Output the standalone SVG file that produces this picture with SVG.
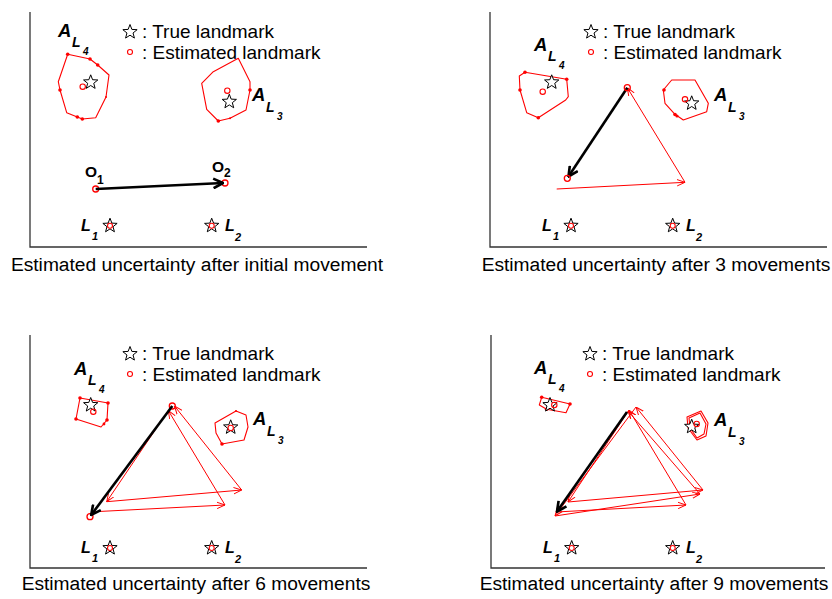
<svg xmlns="http://www.w3.org/2000/svg" width="832" height="599" viewBox="0 0 832 599">
<style>
text{font-family:"Liberation Sans",Arial,sans-serif;fill:#000}
.cap{font-size:19.2px;text-anchor:middle}
.leg{font-size:19px}
.A{font-size:18.5px;font-weight:bold;font-style:italic}
.Ls{font-size:14px;font-weight:bold;font-style:italic}
.sub{font-size:10px;font-weight:bold;font-style:italic}
.L{font-size:16px;font-weight:bold;font-style:italic}
.Lsub{font-size:11px;font-weight:bold;font-style:italic}
.O{font-size:15.5px;font-weight:bold}
.Osub{font-size:12px;font-weight:bold}
.axis{fill:none;stroke:#333;stroke-width:1.3}
.poly{fill:none;stroke:#f00;stroke-width:1.1;stroke-linejoin:round}
.dot{fill:#f00}
.est{fill:none;stroke:#f00;stroke-width:1.1}
.star{fill:#fff;stroke:#000;stroke-width:1}
.rl{stroke:#f00;stroke-width:1;fill:none;marker-end:url(#ar)}
.bl{stroke:#000;stroke-width:2.6;fill:none;marker-end:url(#ab)}
.ec{fill:none;stroke:#f00;stroke-width:1.3}
</style>
<defs>
<path id="st" d="M0,-7.5 L1.88,-2.59 L7.13,-2.32 L3.04,0.99 L4.41,6.07 L0,3.2 L-4.41,6.07 L-3.04,0.99 L-7.13,-2.32 L-1.88,-2.59 Z"/>
<marker id="ar" viewBox="0 0 10 10" refX="10" refY="5" markerWidth="8" markerHeight="8" orient="auto" markerUnits="userSpaceOnUse">
<path d="M0,1 L10,5 L0,9" fill="none" stroke="#f00" stroke-width="1.2"/>
</marker>
<marker id="ab" viewBox="0 0 10 10" refX="9" refY="5" markerWidth="12" markerHeight="12" orient="auto" markerUnits="userSpaceOnUse">
<path d="M1,1 L9,5 L1,9" fill="none" stroke="#000" stroke-width="2.2"/>
</marker>
</defs>

<!-- Panel 1 -->
<g id="panel1">
<path class="axis" d="M30,12 V247 H367"/>
<g id="p1-legend">
<use href="#st" x="130" y="32" class="star"/>
<text class="leg" x="142" y="38">: True landmark</text>
<circle class="est" cx="130" cy="52" r="2.5"/>
<text class="leg" x="142" y="59">: Estimated landmark</text>
</g>
<g id="p1-AL4">
<polygon class="poly" points="67.7,54.3 90,59 97.7,65 109,75 106,97 95.7,117.7 82.3,119 77.3,117 66.7,112.7 60,90 58.3,81.7"/>
<circle class="dot" cx="67.7" cy="54.3" r="1.8"/><circle class="dot" cx="90" cy="59" r="1.8"/><circle class="dot" cx="97.7" cy="65" r="1.8"/><circle class="dot" cx="60" cy="90" r="1.8"/><circle class="dot" cx="77.3" cy="117" r="1.8"/><circle class="dot" cx="82.3" cy="119" r="1.8"/><circle class="dot" cx="106" cy="97" r="1"/>
<use href="#st" x="90.7" y="82.3" class="star"/>
<circle class="est" cx="82.7" cy="86.7" r="2.7"/>
<text class="A" x="58" y="37">A</text><text class="Ls" x="72" y="47">L</text><text class="sub" x="83" y="55">4</text>
</g>
<g id="p1-AL3">
<polygon class="poly" points="238.3,58.3 250,81.7 250,90 246,110 230,118.3 218.3,121 206.7,109.3 201.7,83.3 213.3,71.7"/>
<circle class="dot" cx="250" cy="90" r="1.8"/><circle class="dot" cx="218.3" cy="121" r="1.8"/><circle class="dot" cx="230" cy="118.3" r="1"/>
<use href="#st" x="229.3" y="101.7" class="star"/>
<circle class="est" cx="227.3" cy="90.7" r="2.7"/>
<text class="A" x="252" y="101">A</text><text class="Ls" x="266" y="112">L</text><text class="sub" x="277" y="120">3</text>
</g>
<g id="p1-O">
<text class="O" x="85" y="177">O</text><text class="Osub" x="97" y="184">1</text>
<text class="O" x="212" y="172">O</text><text class="Osub" x="224" y="177">2</text>
<circle class="ec" cx="95.7" cy="189" r="3"/>
<circle class="ec" cx="225" cy="183" r="3"/>
</g>
<g id="p1-L1"><use href="#st" x="110" y="225.7" class="star"/><circle class="est" cx="110" cy="225.7" r="2.5"/><text class="L" x="81" y="231">L</text><text class="Lsub" x="92" y="240">1</text></g>
<g id="p1-L2"><use href="#st" x="211.7" y="225.7" class="star"/><circle class="est" cx="211.7" cy="225.7" r="2.5"/><text class="L" x="225" y="231">L</text><text class="Lsub" x="235" y="241">2</text></g>
<text class="cap" x="197" y="271">Estimated uncertainty after initial movement</text>
</g>

<!-- Panel 2 -->
<g id="panel2">
<path class="axis" d="M490,12 V247 H827"/>
<g id="p2-legend">
<use href="#st" x="591" y="32" class="star"/>
<text class="leg" x="603" y="38">: True landmark</text>
<circle class="est" cx="591" cy="52" r="2.5"/>
<text class="leg" x="603" y="59">: Estimated landmark</text>
</g>
<g id="p2-AL4">
<polygon class="poly" points="525,72.3 566.7,79.3 568.3,96.7 565.7,100 538.3,117.7 526.7,112.7 520,90 519.3,76"/>
<circle class="dot" cx="525" cy="72.3" r="1.8"/><circle class="dot" cx="566.7" cy="79.3" r="1.8"/><circle class="dot" cx="520" cy="90" r="1.8"/><circle class="dot" cx="538.3" cy="117.7" r="1.8"/>
<use href="#st" x="551.7" y="82.3" class="star"/>
<circle class="est" cx="542.7" cy="91.7" r="2.7"/>
<text class="A" x="534" y="51">A</text><text class="Ls" x="548" y="61">L</text><text class="sub" x="559" y="69">4</text>
</g>
<g id="p2-AL3">
<polygon class="poly" points="671.7,80 695,80 708.3,103.3 706.7,111.7 683.3,120 675,114.3 665,103.3 663.3,90"/>
<circle class="dot" cx="664" cy="90" r="1.8"/><circle class="dot" cx="675" cy="114.5" r="1.8"/><circle class="dot" cx="677" cy="116" r="1.6"/>
<use href="#st" x="691.7" y="103.3" class="star"/>
<circle class="est" cx="685" cy="99.3" r="2.7"/>
<text class="A" x="714" y="101">A</text><text class="Ls" x="728" y="112">L</text><text class="sub" x="739" y="120">3</text>
</g>
<g id="p2-L1"><use href="#st" x="571" y="225.7" class="star"/><circle class="est" cx="571" cy="225.7" r="2.5"/><text class="L" x="542" y="231">L</text><text class="Lsub" x="553" y="240">1</text></g>
<g id="p2-L2"><use href="#st" x="672.7" y="225.7" class="star"/><circle class="est" cx="672.7" cy="225.7" r="2.5"/><text class="L" x="686" y="231">L</text><text class="Lsub" x="696" y="241">2</text></g>
<text class="cap" x="656" y="271">Estimated uncertainty after 3 movements</text>
</g>

<!-- Panel 3 -->
<g id="panel3">
<path class="axis" d="M30,335 V568 H367"/>
<g id="p3-legend">
<use href="#st" x="130" y="354" class="star"/>
<text class="leg" x="142" y="360">: True landmark</text>
<circle class="est" cx="130" cy="374" r="2.5"/>
<text class="leg" x="142" y="381">: Estimated landmark</text>
</g>
<g id="p3-AL4">
<polygon class="poly" points="80,398 108,403 107,420 101,427 76,419"/>
<circle class="dot" cx="80" cy="398" r="1.8"/><circle class="dot" cx="108" cy="403" r="1.8"/><circle class="dot" cx="107" cy="420" r="1.8"/><circle class="dot" cx="76" cy="419" r="1.8"/><circle class="dot" cx="104" cy="424" r="1.4"/>
<use href="#st" x="90.7" y="405" class="star"/>
<circle class="est" cx="93.3" cy="411.7" r="2.7"/>
<text class="A" x="74" y="375">A</text><text class="Ls" x="88" y="385">L</text><text class="sub" x="99" y="393">4</text>
</g>
<g id="p3-AL3">
<polygon class="poly" points="215,423 236,411 246,415 248,427 244,440 222,444 216,433"/>
<circle class="dot" cx="222" cy="444" r="1.8"/><circle class="dot" cx="236" cy="411" r="1"/>
<use href="#st" x="230.7" y="427.3" class="star"/>
<circle class="est" cx="230.7" cy="428" r="2.7"/>
<text class="A" x="253" y="425">A</text><text class="Ls" x="267" y="436">L</text><text class="sub" x="278" y="444">3</text>
</g>
<g id="p3-L1"><use href="#st" x="110" y="548" class="star"/><circle class="est" cx="110" cy="548" r="2.5"/><text class="L" x="81" y="553">L</text><text class="Lsub" x="92" y="562">1</text></g>
<g id="p3-L2"><use href="#st" x="211.7" y="548" class="star"/><circle class="est" cx="211.7" cy="548" r="2.5"/><text class="L" x="225" y="553">L</text><text class="Lsub" x="235" y="563">2</text></g>
<g id="p3-ends"><circle class="ec" cx="172.3" cy="406" r="3"/><circle class="ec" cx="90" cy="516.7" r="3"/></g>
<text class="cap" x="196" y="590">Estimated uncertainty after 6 movements</text>
</g>

<!-- Panel 4 -->
<g id="panel4">
<path class="axis" d="M491,335 V568 H825"/>
<g id="p4-legend">
<use href="#st" x="590" y="354" class="star"/>
<text class="leg" x="602" y="360">: True landmark</text>
<circle class="est" cx="590" cy="374" r="2.5"/>
<text class="leg" x="602" y="381">: Estimated landmark</text>
</g>
<g id="p4-AL4">
<polygon class="poly" points="541.7,397.3 570,404 566,412.7 546.7,409.3 539.3,405"/>
<circle class="dot" cx="541.7" cy="397.3" r="1.8"/><circle class="dot" cx="570" cy="404" r="1.8"/><circle class="dot" cx="546.7" cy="409.3" r="1.8"/>
<use href="#st" x="550" y="405" class="star"/>
<circle class="est" cx="554.3" cy="405" r="2.7"/>
<text class="A" x="534" y="374">A</text><text class="Ls" x="548" y="384">L</text><text class="sub" x="559" y="392">4</text>
</g>
<g id="p4-AL3">
<polygon class="poly" points="687,417 701,411 708,423 706,436 697,440 688,428"/>
<polygon class="poly" points="689,418 700,413 706,424 704,434 697,438 690,428" stroke-width="0.7"/>
<use href="#st" x="691.7" y="426.7" class="star"/>
<circle class="est" cx="696.7" cy="424" r="2.7"/>
<text class="A" x="714" y="426">A</text><text class="Ls" x="728" y="437">L</text><text class="sub" x="739" y="445">3</text>
</g>
<g id="p4-L1"><use href="#st" x="571.7" y="548" class="star"/><circle class="est" cx="571.7" cy="548" r="2.5"/><text class="L" x="543" y="553">L</text><text class="Lsub" x="554" y="562">1</text></g>
<g id="p4-L2"><use href="#st" x="672.7" y="548" class="star"/><circle class="est" cx="672.7" cy="548" r="2.5"/><text class="L" x="686" y="553">L</text><text class="Lsub" x="696" y="563">2</text></g>
<text class="cap" x="654" y="590">Estimated uncertainty after 9 movements</text>
</g>

<!-- Connectors -->
<g id="connectors">
<line class="bl" x1="95.7" y1="189" x2="223" y2="183"/>

<line class="rl" x1="556.7" y1="189" x2="685" y2="182.3"/>
<line class="rl" x1="685" y1="182.3" x2="627.3" y2="87.7"/>
<line class="bl" x1="627.3" y1="87.7" x2="568.5" y2="176.5"/>
<circle class="ec" cx="627.3" cy="87.7" r="3"/><circle class="ec" cx="567.3" cy="178.3" r="3"/>

<line class="rl" x1="95" y1="511.7" x2="225" y2="505"/>
<line class="rl" x1="225" y1="505" x2="168.3" y2="410.5"/>
<line class="rl" x1="168.3" y1="410.5" x2="106.7" y2="501.7"/>
<line class="rl" x1="106.7" y1="501.7" x2="241.7" y2="490"/>
<line class="rl" x1="241.7" y1="490" x2="174.5" y2="406"/>
<line class="bl" x1="172.3" y1="406" x2="91.2" y2="515"/>

<line class="rl" x1="556" y1="512" x2="686" y2="505"/>
<line class="rl" x1="686" y1="505" x2="629" y2="410"/>
<line class="rl" x1="629" y1="410" x2="568" y2="502"/>
<line class="rl" x1="568" y1="502" x2="703" y2="490"/>
<line class="rl" x1="703" y1="490" x2="636" y2="407"/>
<line class="rl" x1="636" y1="407" x2="555" y2="516"/>
<line class="rl" x1="555" y1="516" x2="700" y2="494"/>
<line class="rl" x1="700" y1="494" x2="628" y2="411"/>
<line class="bl" x1="627" y1="412" x2="557" y2="511.5"/>
</g>
</svg>
